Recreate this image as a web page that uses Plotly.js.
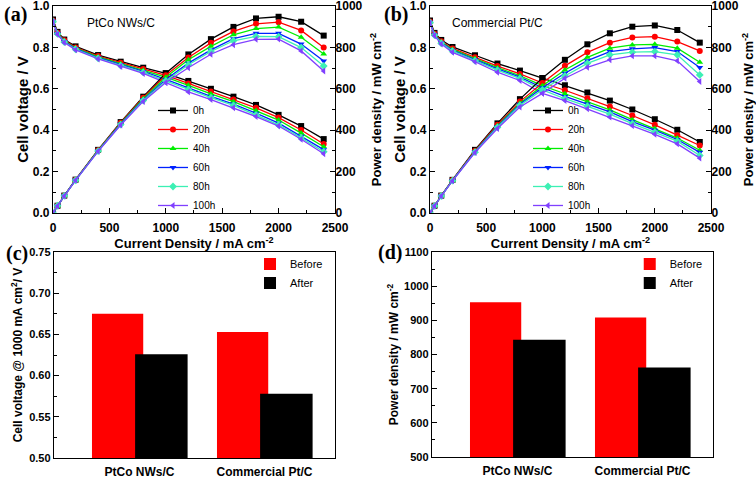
<!DOCTYPE html>
<html><head><meta charset="utf-8">
<script src="https://cdn.plot.ly/plotly-3.0.1.min.js"></script>
<style>html,body{margin:0;padding:0;background:#fff}#chart{width:756px;height:480px}</style>
</head><body><div id="chart"></div>
<script>
// ---- data ----
const currentDensity = [0, 40, 100, 200, 400, 600, 800, 1000, 1200, 1400, 1600, 1800, 2000, 2200, 2400];
const seriesLabels = ['0h', '20h', '40h', '60h', '80h', '100h'];

// (a) PtCo NWs/C cell voltage (V)
const ptcoVoltage0h   = [0.935, 0.875, 0.838, 0.805, 0.763, 0.731, 0.702, 0.675, 0.638, 0.600, 0.562, 0.522, 0.474, 0.420, 0.357];
const ptcoVoltage20h  = [0.930, 0.871, 0.834, 0.800, 0.758, 0.726, 0.696, 0.665, 0.626, 0.587, 0.548, 0.508, 0.461, 0.401, 0.333];
const ptcoVoltage40h  = [0.928, 0.869, 0.831, 0.797, 0.754, 0.721, 0.690, 0.656, 0.617, 0.575, 0.538, 0.495, 0.449, 0.386, 0.320];
const ptcoVoltage60h  = [0.926, 0.867, 0.828, 0.794, 0.750, 0.716, 0.684, 0.645, 0.603, 0.563, 0.526, 0.482, 0.434, 0.371, 0.306];
const ptcoVoltage80h  = [0.925, 0.865, 0.826, 0.791, 0.747, 0.712, 0.679, 0.638, 0.597, 0.557, 0.520, 0.474, 0.426, 0.363, 0.296];
const ptcoVoltage100h = [0.924, 0.863, 0.823, 0.788, 0.744, 0.708, 0.674, 0.630, 0.585, 0.548, 0.508, 0.466, 0.420, 0.356, 0.286];
// (a) PtCo NWs/C power density (mW cm-2)
const ptcoPower0h   = [0, 35, 84, 161, 305, 439, 562, 675, 766, 840, 899, 940, 948, 924, 857];
const ptcoPower20h  = [0, 35, 83, 160, 303, 436, 557, 665, 751, 822, 877, 914, 922, 882, 799];
const ptcoPower40h  = [0, 35, 83, 159, 302, 433, 552, 656, 740, 805, 861, 891, 898, 849, 768];
const ptcoPower60h  = [0, 35, 83, 159, 300, 430, 547, 645, 724, 788, 842, 868, 868, 816, 734];
const ptcoPower80h  = [0, 35, 83, 158, 299, 427, 543, 638, 716, 780, 832, 853, 852, 799, 710];
const ptcoPower100h = [0, 34, 82, 158, 298, 425, 539, 630, 702, 767, 813, 839, 840, 783, 686];

// (b) Commercial Pt/C cell voltage (V)
const ptcVoltage0h   = [0.930, 0.870, 0.836, 0.802, 0.762, 0.722, 0.688, 0.652, 0.617, 0.582, 0.543, 0.500, 0.453, 0.402, 0.343];
const ptcVoltage20h  = [0.925, 0.866, 0.830, 0.795, 0.752, 0.710, 0.672, 0.628, 0.593, 0.554, 0.514, 0.471, 0.426, 0.376, 0.326];
const ptcVoltage40h  = [0.923, 0.863, 0.826, 0.790, 0.746, 0.702, 0.663, 0.615, 0.576, 0.537, 0.498, 0.451, 0.408, 0.362, 0.303];
const ptcVoltage60h  = [0.921, 0.861, 0.823, 0.786, 0.741, 0.696, 0.656, 0.605, 0.563, 0.526, 0.488, 0.441, 0.400, 0.355, 0.293];
const ptcVoltage80h  = [0.920, 0.859, 0.820, 0.782, 0.736, 0.690, 0.650, 0.595, 0.552, 0.516, 0.478, 0.432, 0.390, 0.347, 0.278];
const ptcVoltage100h = [0.918, 0.856, 0.816, 0.776, 0.731, 0.680, 0.640, 0.578, 0.543, 0.503, 0.463, 0.422, 0.380, 0.334, 0.265];
// (b) Commercial Pt/C power density (mW cm-2)
const ptcPower0h   = [0, 35, 84, 160, 305, 433, 550, 652, 740, 815, 868, 900, 906, 884, 823];
const ptcPower20h  = [0, 35, 83, 159, 301, 426, 538, 628, 711, 776, 823, 848, 852, 828, 783];
const ptcPower40h  = [0, 35, 83, 158, 298, 421, 530, 615, 691, 752, 796, 812, 815, 796, 728];
const ptcPower60h  = [0, 34, 82, 157, 296, 418, 525, 605, 675, 736, 780, 793, 799, 780, 703];
const ptcPower80h  = [0, 34, 82, 156, 294, 414, 520, 595, 662, 723, 764, 777, 780, 764, 667];
const ptcPower100h = [0, 34, 82, 155, 292, 408, 512, 578, 651, 704, 740, 759, 759, 735, 635];

// (c), (d) bars
const barCategories = ['PtCo NWs/C', 'Commercial Pt/C'];
const voltageBefore = [0.675, 0.653];
const voltageAfter  = [0.626, 0.578];
const powerBefore   = [953, 908];
const powerAfter    = [843, 762];

// ---- styling ----
const seriesColors  = ['#000000', '#ff0000', '#00ee00', '#0022ff', '#3cf0b4', '#8040ff'];
const seriesSymbols = ['square', 'circle', 'triangle-up', 'triangle-down', 'diamond', 'triangle-left'];
const SANS = 'Liberation Sans, Arial, Helvetica, sans-serif';
const SERIF = 'Liberation Serif, Times New Roman, serif';

const ptcoVoltage = [ptcoVoltage0h, ptcoVoltage20h, ptcoVoltage40h, ptcoVoltage60h, ptcoVoltage80h, ptcoVoltage100h];
const ptcoPower   = [ptcoPower0h, ptcoPower20h, ptcoPower40h, ptcoPower60h, ptcoPower80h, ptcoPower100h];
const ptcVoltage  = [ptcVoltage0h, ptcVoltage20h, ptcVoltage40h, ptcVoltage60h, ptcVoltage80h, ptcVoltage100h];
const ptcPower    = [ptcPower0h, ptcPower20h, ptcPower40h, ptcPower60h, ptcPower80h, ptcPower100h];

const traces = [];
function addPanel(volts, powers, xa, yv, yp, legendName) {
  for (let i = 0; i < seriesLabels.length; i++) {
    const style = {
      mode: 'lines+markers',
      line: {color: seriesColors[i], width: 1.3},
      marker: {symbol: seriesSymbols[i], size: 6, color: seriesColors[i]},
      hoverinfo: 'skip'
    };
    traces.push(Object.assign({x: currentDensity, y: volts[i], xaxis: xa, yaxis: yv,
      name: seriesLabels[i], legend: legendName, showlegend: true}, style));
    traces.push(Object.assign({x: currentDensity, y: powers[i], xaxis: xa, yaxis: yp,
      name: seriesLabels[i], legend: legendName, showlegend: false}, style));
  }
}
addPanel(ptcoVoltage, ptcoPower, 'x', 'y', 'y2', 'legend');
addPanel(ptcVoltage, ptcPower, 'x2', 'y3', 'y4', 'legend2');

function addBars(before, after, xa, ya, legendName) {
  traces.push({type: 'bar', x: barCategories, y: before, name: 'Before', xaxis: xa, yaxis: ya,
    marker: {color: '#ff0000', line: {width: 0}}, width: 0.41, offset: -0.38, legend: legendName, hoverinfo: 'skip'});
  traces.push({type: 'bar', x: barCategories, y: after, name: 'After', xaxis: xa, yaxis: ya,
    marker: {color: '#000000', line: {width: 0}}, width: 0.42, offset: -0.035, legend: legendName, hoverinfo: 'skip'});
}
addBars(voltageBefore, voltageAfter, 'x3', 'y5', 'legend3');
addBars(powerBefore, powerAfter, 'x4', 'y6', 'legend4');

function ax(extra) {
  return Object.assign({
    showline: true, linecolor: '#000', linewidth: 1.2,
    ticks: 'inside', ticklen: 5, tickwidth: 1.2, tickcolor: '#000',
    showgrid: false, zeroline: false, automargin: false, fixedrange: true,
    ticklabeloverflow: 'allow',
    tickfont: {family: SANS, size: 12, color: '#000', weight: 'bold'}
  }, extra);
}
function ttl(text, size, standoff) {
  return {text: text, font: {family: SANS, size: size, color: '#000', weight: 'bold'}, standoff: standoff};
}
function minorTicks(d) {
  return {dtick: d, ticks: 'inside', ticklen: 3, tickwidth: 1, tickcolor: '#000', showgrid: false};
}
const topDomain = [0.5563, 0.9875];
const botDomainC = [0.0458, 0.475];
const botDomainD = [0.0479, 0.475];

const legendTop = {xanchor: 'left', yanchor: 'bottom', y: 0.5417, bgcolor: 'rgba(0,0,0,0)',
  borderwidth: 0, itemwidth: 30, tracegroupgap: 0, traceorder: 'normal',
  font: {family: SANS, size: 10, color: '#000'}};
const legendBar = {xanchor: 'left', yanchor: 'top', y: 0.48, bgcolor: 'rgba(0,0,0,0)',
  borderwidth: 0, itemwidth: 30, tracegroupgap: 0, traceorder: 'normal',
  font: {family: SANS, size: 11, color: '#000'}};

const layout = {
  width: 756, height: 480,
  margin: {l: 0, r: 0, t: 0, b: 0},
  paper_bgcolor: '#fff', plot_bgcolor: 'rgba(0,0,0,0)',
  barmode: 'overlay',
  font: {family: SANS, color: '#000'},
  // (a)
  xaxis: ax({domain: [0.0701, 0.4431], anchor: 'y', range: [0, 2500], tick0: 0, dtick: 500, mirror: true,
    ticklabelstandoff: 3, minor: minorTicks(250), title: ttl('Current Density / mA cm<sup>-2</sup>', 13, 0)}),
  yaxis: ax({domain: topDomain, anchor: 'x', range: [0, 1.0], dtick: 0.2, tickformat: '.1f',
    minor: minorTicks(0.1), title: ttl('Cell voltage / V', 15, 0)}),
  yaxis2: ax({overlaying: 'y', side: 'right', anchor: 'x', range: [0, 1000], dtick: 200,
    ticklabelstandoff: -3, minor: minorTicks(100),
    title: ttl('Power density / mW cm<sup>-2</sup>', 13, 10)}),
  // (b)
  xaxis2: ax({domain: [0.5688, 0.9405], anchor: 'y3', range: [0, 2500], tick0: 0, dtick: 500, mirror: true,
    ticklabelstandoff: 3, minor: minorTicks(250), title: ttl('Current Density / mA cm<sup>-2</sup>', 13, 0)}),
  yaxis3: ax({domain: topDomain, anchor: 'x2', range: [0, 1.0], dtick: 0.2, tickformat: '.1f',
    minor: minorTicks(0.1), title: ttl('Cell voltage / V', 15, 0)}),
  yaxis4: ax({overlaying: 'y3', side: 'right', anchor: 'x2', range: [0, 1000], dtick: 200,
    ticklabelstandoff: -3, minor: minorTicks(100),
    title: ttl('Power density / mW cm<sup>-2</sup>', 13, 10)}),
  // (c)
  xaxis3: ax({domain: [0.0714, 0.4431], anchor: 'y5', type: 'category', range: [-0.684, 1.564],
    ticks: '', mirror: true, ticklabelstandoff: 2}),
  yaxis5: ax({domain: botDomainC, anchor: 'x3', range: [0.5, 0.75], dtick: 0.05, tickformat: '.2f', mirror: true,
    tickfont: {family: SANS, size: 11, color: '#000', weight: 'bold'},
    minor: minorTicks(0.025),
    title: ttl('Cell voltage @ 1000 mA cm<sup>2</sup>/ V', 12, 4)}),
  // (d)
  xaxis4: ax({domain: [0.5714, 0.9431], anchor: 'y6', type: 'category', range: [-0.684, 1.564],
    ticks: '', mirror: true, ticklabelstandoff: 2}),
  yaxis6: ax({domain: botDomainD, anchor: 'x4', range: [500, 1100], dtick: 100, mirror: true,
    tickfont: {family: SANS, size: 11, color: '#000', weight: 'bold'},
    minor: minorTicks(50),
    title: ttl('Power density / mW cm<sup>-2</sup>', 12, 2)}),
  legend: Object.assign({}, legendTop, {x: 0.2024}),
  legend2: Object.assign({}, legendTop, {x: 0.6984}),
  legend3: Object.assign({}, legendBar, {x: 0.3307}),
  legend4: Object.assign({}, legendBar, {x: 0.833}),
  annotations: [
    {text: '(a)', x: 15/756, y: 1 - 14/480},
    {text: '(b)', x: 396/756, y: 1 - 14/480},
    {text: '(c)', x: 17/756, y: 1 - 253/480},
    {text: '(d)', x: 390/756, y: 1 - 252/480}
  ].map(a => Object.assign({xref: 'paper', yref: 'paper', showarrow: false, xanchor: 'center', yanchor: 'middle',
      font: {family: SERIF, size: 20, color: '#000', weight: 'bold'}}, a)).concat([
    {text: 'PtCo NWs/C', x: 121/756, y: 1 - 23/480},
    {text: 'Commercial Pt/C', x: 497/756, y: 1 - 23/480}
  ].map(a => Object.assign({xref: 'paper', yref: 'paper', showarrow: false, xanchor: 'center', yanchor: 'middle',
      font: {family: SANS, size: 12, color: '#000'}}, a)))
};

Plotly.newPlot('chart', traces, layout, {staticPlot: true, displayModeBar: false});
</script>
</body></html>
